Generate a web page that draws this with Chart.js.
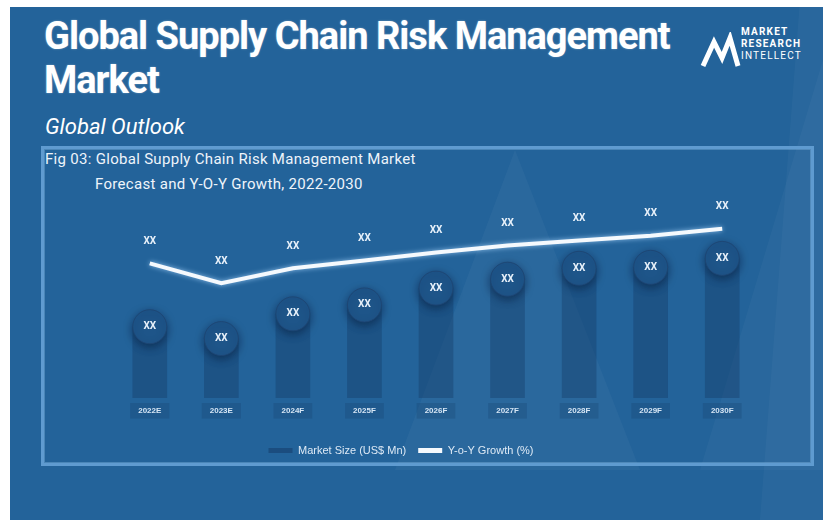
<!DOCTYPE html>
<html>
<head>
<meta charset="utf-8">
<script src="https://cdn.jsdelivr.net/npm/chart.js@4.4.1/dist/chart.umd.min.js"></script>
<style>
  html,body{margin:0;padding:0;background:#fff;}
  body{width:823px;height:520px;position:relative;overflow:hidden;font-family:Roboto,"Liberation Sans",sans-serif;}
  #panel{position:absolute;left:10px;top:7px;width:813px;height:513px;background:#23639a;overflow:hidden;}
  .tri{position:absolute;left:0;top:0;width:823px;height:520px;}
  #title{position:absolute;left:44px;top:14px;color:#fff;font-weight:700;font-size:38px;line-height:44px;letter-spacing:-1px;text-shadow:0 0 2px rgba(255,255,255,0.4);white-space:nowrap;}
  #sub{position:absolute;left:45px;top:114px;color:#fff;font-style:italic;font-size:22px;letter-spacing:0px;}
  #logo{position:absolute;left:700px;top:26px;color:#fff;}
  #logo .t{position:absolute;left:41px;top:0;font-size:10px;line-height:12px;font-weight:700;letter-spacing:1.2px;white-space:nowrap;}
  #box{position:absolute;left:41px;top:146px;width:767px;height:314px;border:3px solid #5f9bd0;box-shadow:inset 0 0 0 1px rgba(150,200,240,0.35);}
  #cap1{position:absolute;left:45px;top:150px;color:#eef4fa;font-size:15px;letter-spacing:0.3px;white-space:nowrap;}
  #cap2{position:absolute;left:95px;top:175px;color:#eef4fa;font-size:15px;letter-spacing:0.3px;white-space:nowrap;}
  canvas{position:absolute;left:0;top:0;}
</style>
</head>
<body>
<div id="panel"></div>
<svg class="tri" width="823" height="520">
  <polygon points="515,150 395,470 640,470" fill="rgba(255,255,255,0.035)"/>
  <polygon points="823,60 700,470 823,470" fill="rgba(255,255,255,0.03)"/>
  <polygon points="800,0 823,0 823,520 760,520" fill="rgba(255,255,255,0.03)"/>
</svg>
<div id="title">Global Supply Chain Risk Management<br>Market</div>
<div id="sub">Global Outlook</div>
<div id="logo">
  <svg width="42" height="40" style="position:absolute;left:0;top:6px">
    <polyline points="3,34 14,10 22,26 30,6 38,34" fill="none" stroke="#fff" stroke-width="5" stroke-linejoin="miter"/>
  </svg>
  <div class="t">MARKET<br>RESEARCH<br><span style="font-weight:400">INTELLECT</span></div>
</div>
<div id="box"></div>
<div id="cap1">Fig 03: Global Supply Chain Risk Management Market</div>
<div id="cap2">Forecast and Y-O-Y Growth, 2022-2030</div>
<canvas id="c" width="823" height="520"></canvas>
<script>
const categories = ["2022E","2023E","2024F","2025F","2026F","2027F","2028F","2029F","2030F"];
const marketSize = [7.2, 6.0, 8.5, 9.4, 11.1, 12.0, 13.1, 13.2, 14.1];
const yoyGrowth = [13.6, 11.6, 13.1, 13.9, 14.7, 15.4, 15.9, 16.4, 17.1];
const valueLabel = "XX";
const seriesNames = ["Market Size (US$ Mn)", "Y-o-Y Growth (%)"];

const labelPlugin = {
  id: 'xxLabels',
  beforeDatasetDraw(chart, args) {
    const ctx = chart.ctx;
    ctx.save();
    if (args.index === 2) {
      ctx.shadowColor = 'rgba(5,25,55,0.55)';
      ctx.shadowBlur = 9;
      ctx.shadowOffsetY = 3;
    } else if (args.index === 1) {
      ctx.shadowColor = 'rgba(170,215,255,0.8)';
      ctx.shadowBlur = 5;
    }
  },
  afterDatasetDraw(chart, args) {
    chart.ctx.restore();
  },
  afterDatasetsDraw(chart) {
    const ctx = chart.ctx;
    ctx.save();
    ctx.font = 'bold 10px Roboto, sans-serif';
    ctx.fillStyle = '#e8f1fa';
    ctx.textAlign = 'center';
    ctx.textBaseline = 'middle';
    chart.getDatasetMeta(2).data.forEach(p => ctx.fillText(valueLabel, p.x, p.y));
    chart.getDatasetMeta(1).data.forEach(p => ctx.fillText(valueLabel, p.x, p.y - 22));
    ctx.restore();
  }
};

new Chart(document.getElementById('c'), {
  data: {
    labels: categories,
    datasets: [
      {
        type: 'bar', label: seriesNames[0], data: marketSize, yAxisID: 'y',
        backgroundColor: 'rgba(18,52,95,0.34)', borderWidth: 0, barThickness: 34, order: 2
      },
      {
        type: 'line', label: seriesNames[1], data: yoyGrowth, yAxisID: 'y1',
        borderColor: '#f5f9fd', backgroundColor: '#f5f9fd', borderWidth: 4,
        pointRadius: 0, tension: 0, order: 0
      },
      {
        type: 'line', label: 'circles', data: marketSize, yAxisID: 'y', showLine: false,
        pointRadius: 17, pointHoverRadius: 17, pointBackgroundColor: '#1e5589',
        pointBorderColor: 'rgba(30,70,115,0.9)', pointBorderWidth: 1, order: 1
      }
    ]
  },
  options: {
    responsive: false,
    animation: false,
    events: [],
    layout: { padding: { left: 44, right: 65, top: 200, bottom: 54 } },
    scales: {
      x: {
        grid: { display: false },
        border: { display: false },
        ticks: {
          color: '#d6e6f5', font: { size: 8, weight: 'bold' }, padding: 0,
          showLabelBackdrop: true, backdropColor: 'rgba(20,60,105,0.25)', backdropPadding: { x: 8, y: 3 }
        },
        afterFit(scale) { scale.height = 35; }
      },
      y: {
        display: true, position: 'left', min: 0, max: 20,
        grid: { display: false }, border: { display: false }, ticks: { display: false },
        afterFit(scale) { scale.width = 70; }
      },
      y1: { display: false, min: 0, max: 20 }
    },
    plugins: {
      tooltip: { enabled: false },
      legend: {
        position: 'bottom',
        labels: {
          color: '#dde9f5', font: { size: 11 }, boxWidth: 24, boxHeight: 5, padding: 12,
          filter: (item) => item.datasetIndex !== 2,
          sort: (a, b) => a.datasetIndex - b.datasetIndex,
          generateLabels(chart) {
            const items = Chart.defaults.plugins.legend.labels.generateLabels(chart);
            items.forEach(it => {
              if (it.datasetIndex === 0) { it.fillStyle = 'rgba(18,52,95,0.45)'; it.strokeStyle = 'rgba(0,0,0,0)'; it.lineWidth = 0; }
              if (it.datasetIndex === 1) { it.fillStyle = '#f5f9fd'; it.strokeStyle = '#f5f9fd'; it.lineWidth = 0; }
            });
            return items;
          }
        }
      }
    }
  },
  plugins: [labelPlugin]
});
</script>
</body>
</html>
